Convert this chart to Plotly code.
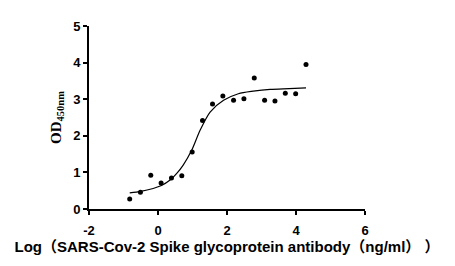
import plotly.graph_objects as go

# Measured points (log concentration, OD450)
log_conc = [-0.82, -0.51, -0.21, 0.09, 0.39, 0.69, 0.99, 1.29, 1.58, 1.88,
            2.19, 2.49, 2.79, 3.09, 3.39, 3.69, 3.99, 4.29]
od450 = [0.27, 0.46, 0.92, 0.71, 0.85, 0.91, 1.56, 2.42, 2.87, 3.09,
         2.97, 3.01, 3.58, 2.97, 2.95, 3.16, 3.15, 3.95]

# Fitted curve
curve_x = [-0.82, -0.5, -0.14, 0.1, 0.35, 0.55, 0.73, 0.98, 1.22, 1.51,
           1.9, 2.33, 2.76, 3.25, 3.8, 4.29]
curve_y = [0.44, 0.48, 0.56, 0.64, 0.79, 0.98, 1.2, 1.61, 2.15, 2.65,
           2.97, 3.15, 3.22, 3.27, 3.29, 3.31]

x_ticks = [-2, 0, 2, 4, 6]
x_labels = ["-2", "0", "2", "4", "6"]
y_ticks = [0, 1, 2, 3, 4, 5]
y_labels = ["0", "1", "2", "3", "4", "5"]

fig = go.Figure()
fig.add_trace(go.Scatter(x=curve_x, y=curve_y, mode="lines",
                         line=dict(color="black", width=1.2, shape="spline", smoothing=0.8),
                         hoverinfo="skip", showlegend=False))
fig.add_trace(go.Scatter(x=log_conc, y=od450, mode="markers",
                         marker=dict(color="black", size=5),
                         showlegend=False))

tickfont = dict(family="Liberation Sans, Arial", size=13, color="black")
fig.update_layout(
    width=455, height=266,
    margin=dict(l=89, r=90, t=26, b=57),
    paper_bgcolor="white", plot_bgcolor="white",
    xaxis=dict(range=[-2, 6], tickvals=x_ticks,
               ticktext=["<b>%s</b>" % t for t in x_labels],
               ticks="outside", ticklen=4, ticklabelstandoff=4,
               tickwidth=2, tickcolor="black", showline=True, linecolor="black",
               linewidth=2, showgrid=False, zeroline=False,
               tickfont=tickfont,
               title=dict(text="<b>Log（SARS-Cov-2 Spike glycoprotein antibody（ng/ml） ）</b>",
                          font=dict(family="Liberation Sans, Arial, Noto Sans CJK SC", size=15,
                                    color="black"),
                          standoff=4)),
    yaxis=dict(range=[0, 5], tickvals=y_ticks,
               ticktext=["<b>%s</b>" % t for t in y_labels],
               ticks="outside", ticklen=4,
               tickwidth=2, tickcolor="black", showline=True, linecolor="black",
               linewidth=2, showgrid=False, zeroline=False,
               tickfont=tickfont,
               title=dict(text="<b>OD<sub>450nm</sub></b>",
                          font=dict(family="Liberation Serif, Times New Roman", size=15,
                                    color="black"),
                          standoff=8)),
)
fig.write_html("out.html")
